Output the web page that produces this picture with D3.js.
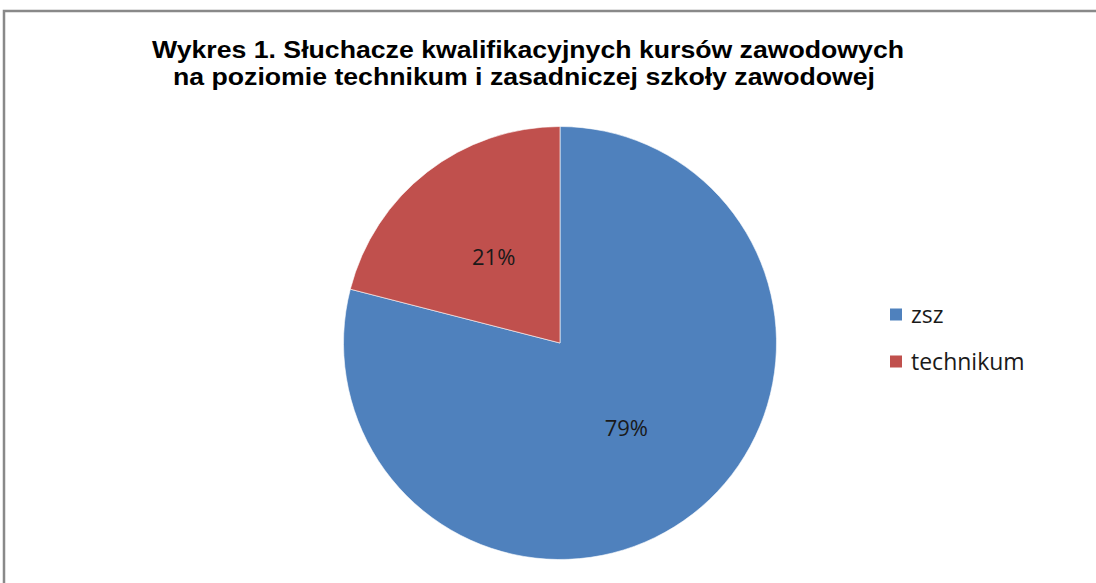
<!DOCTYPE html>
<html>
<head>
<meta charset="utf-8">
<script src="https://cdn.jsdelivr.net/npm/d3@7"></script>
<style>
  body { margin: 0; background: #fff; }
  svg { display: block; }
</style>
</head>
<body>
<div class="chart"></div>
<script>
var size = { width: 1096, height: 583 };

// data
var categories = ["zsz", "technikum"];
var shares = [79, 21];
var colors = ["#4f81bd", "#c0504d"];
var titleLines = [
  "Wykres 1. Słuchacze kwalifikacyjnych kursów zawodowych",
  "na poziomie technikum i zasadniczej szkoły zawodowej"
];
var titleWidths = [752, 702];

var data = categories.map((c, i) => ({ name: c, value: shares[i], color: colors[i] }));

var svg = d3.select(".chart")
  .append("svg")
  .attr("width", size.width)
  .attr("height", size.height);

// chart area border (runs off the right and bottom edge)
svg.append("rect")
  .attr("x", 4)
  .attr("y", 11)
  .attr("width", size.width + 20)
  .attr("height", size.height + 20)
  .attr("fill", "#fff")
  .attr("stroke", "#898989")
  .attr("stroke-width", 2.5);

// title - stretched to the width it has in the picture
svg.append("text")
  .attr("class", "title")
  .attr("x", 527)
  .attr("y", 58)
  .attr("text-anchor", "middle")
  .style("font-family", "'Liberation Sans', Arial, sans-serif")
  .style("font-weight", "bold")
  .style("font-size", "23px")
  .selectAll("tspan")
  .data(titleLines)
  .enter()
  .append("tspan")
  .attr("x", (d, i) => i === 0 ? 528 : 524)
  .attr("dy", (d, i) => i === 0 ? 0 : 27)
  .attr("textLength", (d, i) => titleWidths[i])
  .attr("lengthAdjust", "spacingAndGlyphs")
  .text(d => d);

// pie
var radius = 216.5;
var pie = d3.pie().sort(null).value(d => d.value);
var arc = d3.arc().innerRadius(0).outerRadius(radius);

var g = svg.append("g")
  .attr("transform", "translate(560,343)");

var slices = g.selectAll("g.slice")
  .data(pie(data))
  .enter()
  .append("g")
  .attr("class", "slice");

slices.append("path")
  .attr("d", arc)
  .attr("fill", d => d.data.color)
  .attr("stroke", "#fff")
  .attr("stroke-width", 0.6);

slices.append("text")
  .attr("transform", d => "translate(" + arc.centroid(d) + ")")
  .attr("text-anchor", "middle")
  .attr("dy", "0.35em")
  .style("font-family", "'Open Sans', sans-serif")
  .style("font-size", "22px")
  .style("fill", "#1a1a1a")
  .text(d => d.data.value + "%");

// legend
var legend = svg.append("g")
  .attr("transform", "translate(890,0)");

var items = legend.selectAll("g.item")
  .data(data)
  .enter()
  .append("g")
  .attr("class", "item")
  .attr("transform", (d, i) => "translate(0," + (315 + i * 47) + ")");

items.append("rect")
  .attr("x", 0)
  .attr("y", -6.5)
  .attr("width", 12)
  .attr("height", 12)
  .attr("fill", d => d.color);

items.append("text")
  .attr("x", 21)
  .attr("dy", "0.35em")
  .style("font-family", "'Open Sans', sans-serif")
  .style("font-size", "23px")
  .style("fill", "#1a1a1a")
  .text(d => d.name);
</script>
</body>
</html>
